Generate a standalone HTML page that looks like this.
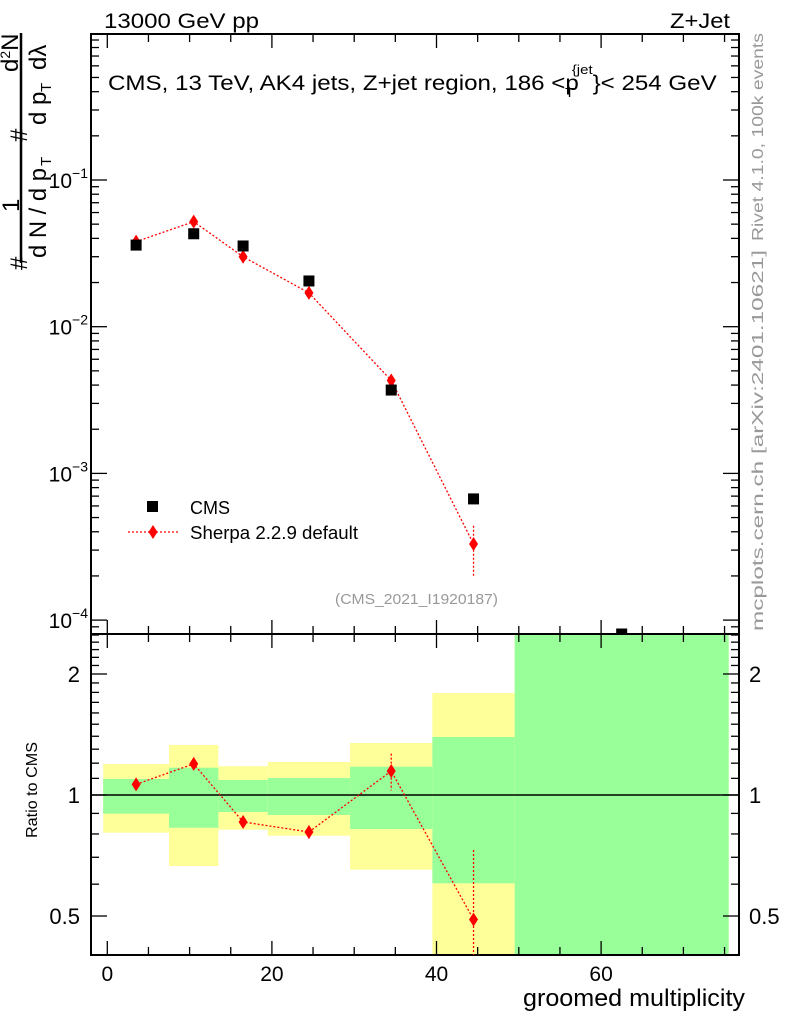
<!DOCTYPE html>
<html><head><meta charset="utf-8"><style>
html,body{margin:0;padding:0;background:#fff;}
svg{display:block;font-family:"Liberation Sans",sans-serif;}
</style></head><body>
<svg id="c" width="786" height="1024" viewBox="0 0 786 1024">
<g id="layer"></g>
</svg>
<script>
const binEdges = [-0.5, 7.5, 13.5, 19.5, 29.5, 39.5, 49.5, 75.5];
const binCenters = [3.5, 10.5, 16.5, 24.5, 34.5, 44.5, 62.5];
const cmsValues = [0.036, 0.043, 0.0355, 0.0205, 0.0037, 0.00067, 0.00008];
const sherpaValues = [0.038, 0.052, 0.030, 0.017, 0.0043, 0.00033];
const sherpaErrUp = [0.0015, 0.0018, 0.0012, 0.0008, 0.0003, 0.00011];
const sherpaErrDn = [0.0015, 0.0018, 0.0012, 0.0008, 0.0003, 0.00013];
const ratioValues = [1.063, 1.195, 0.857, 0.809, 1.147, 0.49];
const ratioErrUp = [0.03, 0.035, 0.03, 0.03, 0.12, 0.24];
const ratioErrDn = [0.03, 0.035, 0.03, 0.03, 0.12, 0.25];
const yellowUp = [1.194, 1.332, 1.179, 1.208, 1.347, 1.794, 3.0];
const yellowDn = [0.806, 0.666, 0.820, 0.792, 0.652, 0.1, 0.1];
const greenUp = [1.096, 1.169, 1.090, 1.102, 1.176, 1.394, 2.5];
const greenDn = [0.899, 0.829, 0.907, 0.892, 0.823, 0.603, 0.1];
const xTicks = [0, 20, 40, 60];
const mainTicks = [-4, -3, -2, -1];
const ratioTickLabels = [0.5, 1, 2];

const L=91, R=739, T=34, M=634, B=955;
const X = v => 107.3 + v*8.23;
const Y = v => 180 - (Math.log10(v)+1)*146.7;
const RY = v => 795 - Math.log10(v)*402;
const NS='http://www.w3.org/2000/svg';
const layer=document.getElementById('layer');
function mk(tag, attrs, parent){const e=document.createElementNS(NS,tag);for(const k in attrs)e.setAttribute(k,attrs[k]);(parent||layer).appendChild(e);return e;}
function clampR(v){return Math.max(M, Math.min(B, v));}

const bands = mk('g',{});


for(let i=0;i<binCenters.length;i++){
  const x0=X(binEdges[i]), x1=X(binEdges[i+1]);
  const ry=mk('rect',{x:x0,y:clampR(RY(yellowUp[i])),width:x1-x0,height:clampR(RY(yellowDn[i]))-clampR(RY(yellowUp[i])),fill:'#ffff99'},bands);
  
  
  const rg=mk('rect',{x:x0,y:clampR(RY(greenUp[i])),width:x1-x0,height:clampR(RY(greenDn[i]))-clampR(RY(greenUp[i])),fill:'#99ff99'},bands);
  
  
}
mk('line',{x1:L,x2:R,y1:RY(1),y2:RY(1),stroke:'#000','stroke-width':1.5});

const f1=mk('rect',{x:L,y:T,width:R-L,height:M-T,fill:'none',stroke:'#000','stroke-width':2});


const f2=mk('rect',{x:L,y:M,width:R-L,height:B-M,fill:'none',stroke:'#000','stroke-width':2});



for(let v=0; v<=75; v+=5){
  const major = v%20===0, x=X(v), len=major?14:8;
  mk('line',{x1:x,x2:x,y1:T,y2:T+len,stroke:'#000','stroke-width':1.3});
  mk('line',{x1:x,x2:x,y1:M,y2:M-len,stroke:'#000','stroke-width':1.3});
  mk('line',{x1:x,x2:x,y1:M,y2:M+len,stroke:'#000','stroke-width':1.3});
  mk('line',{x1:x,x2:x,y1:B,y2:B-len,stroke:'#000','stroke-width':1.3});
}
xTicks.forEach(v=>{const t=mk('text',{x:X(v),y:981,'font-size':21,'text-anchor':'middle'});t.textContent=v;

});

for(let d=-5; d<=0; d++){
  for(let k=1;k<10;k++){
    const v=k*Math.pow(10,d), y=Y(v);
    if(y<T||y>M) continue;
    const len=k===1?16:8;
    mk('line',{x1:L,x2:L+len,y1:y,y2:y,stroke:'#000','stroke-width':1.3});
    mk('line',{x1:R,x2:R-len,y1:y,y2:y,stroke:'#000','stroke-width':1.3});
  }
}
mainTicks.forEach(d=>{
  const t=mk('text',{x:88,y:Y(Math.pow(10,d))+8,'font-size':21,'text-anchor':'end'});
  
  
  t.innerHTML='10<tspan dy="-10" font-size="14">−'+(-d)+'</tspan>';
});

const rt=[0.5,0.6,0.7,0.8,0.9,1,1.1,1.2,1.3,1.4,1.5,1.6,1.7,1.8,1.9,2,2.1,2.2,2.3,2.4,2.5];
rt.forEach(v=>{const y=RY(v); if(y<M||y>B)return; const len=(v===0.5||v===1||v===2)?16:8;
  mk('line',{x1:L,x2:L+len,y1:y,y2:y,stroke:'#000','stroke-width':1.3});
  mk('line',{x1:R,x2:R-len,y1:y,y2:y,stroke:'#000','stroke-width':1.3});});
ratioTickLabels.forEach(v=>{
  const t=mk('text',{x:80,y:RY(v)+8,'font-size':22,'text-anchor':'end'});t.textContent=v;
  
  
  const t2=mk('text',{x:749,y:RY(v)+8,'font-size':22});t2.textContent=v;
  
  
});

let pts=sherpaValues.map((v,i)=>X(binCenters[i])+','+Y(v)).join(' ');
const sl=mk('polyline',{points:pts,fill:'none',stroke:'#f00','stroke-width':1.3,'stroke-dasharray':'2,2'});


sherpaValues.forEach((v,i)=>{
  const x=X(binCenters[i]);
  mk('line',{x1:x,x2:x,y1:Y(v+sherpaErrUp[i]),y2:Y(v-sherpaErrDn[i]),stroke:'#f00','stroke-width':1.3,'stroke-dasharray':'2,2'});
  const y=Y(v);
  const p=mk('polygon',{points:`${x},${y-7} ${x+4.5},${y} ${x},${y+7} ${x-4.5},${y}`,fill:'#f00'});
  
  
});
cmsValues.forEach((v,i)=>{
  const x=X(binCenters[i]), y=Math.min(Y(v), M);
  const r=mk('rect',{x:x-5.5,y:y-5.5,width:11,height:Math.min(11,M-(y-5.5)),fill:'#000'});
  
  
});

pts=ratioValues.map((v,i)=>X(binCenters[i])+','+RY(v)).join(' ');
const rl=mk('polyline',{points:pts,fill:'none',stroke:'#f00','stroke-width':1.3,'stroke-dasharray':'2,2'});


ratioValues.forEach((v,i)=>{
  const x=X(binCenters[i]), y=RY(v);
  mk('line',{x1:x,x2:x,y1:clampR(RY(v+ratioErrUp[i])),y2:clampR(RY(v-ratioErrDn[i])),stroke:'#f00','stroke-width':1.3,'stroke-dasharray':'2,2'});
  const p=mk('polygon',{points:`${x},${y-7} ${x+4.5},${y} ${x},${y+7} ${x-4.5},${y}`,fill:'#f00'});
  
  
});
</script>
<svg style="position:absolute;left:0;top:0" width="786" height="1024">
<text x="104" y="28" font-size="21" textLength="155" lengthAdjust="spacingAndGlyphs">13000 GeV pp</text>
<text x="670" y="28" font-size="21" textLength="60" lengthAdjust="spacingAndGlyphs">Z+Jet</text>
<g transform="translate(108,90) scale(1.15,1)">
<text x="0" y="0" font-size="21">CMS, 13 TeV, AK4 jets, Z+jet region, 186 &lt;p<tspan dy="7" dx="-12" font-size="13">T</tspan><tspan dy="-23" dx="-2" font-size="13">{jet</tspan><tspan dy="16" font-size="21">}&lt; 254 GeV</tspan></text>
</g>
<rect x="147" y="501" width="11" height="11" fill="#000"/>
<text x="190" y="514" font-size="18" textLength="40" lengthAdjust="spacingAndGlyphs">CMS</text>
<line x1="128" x2="178" y1="532" y2="532" stroke="#f00" stroke-width="1.3" stroke-dasharray="2,2"/>
<polygon points="153,525 157.5,532 153,539 148.5,532" fill="#f00"/>
<text x="190" y="539" font-size="18" textLength="168" lengthAdjust="spacingAndGlyphs">Sherpa 2.2.9 default</text>
<text x="335" y="604" font-size="15" fill="#999" textLength="163" lengthAdjust="spacingAndGlyphs">(CMS_2021_I1920187)</text>
<text transform="translate(763,241) rotate(-90)" font-size="16" fill="#999" textLength="208" lengthAdjust="spacingAndGlyphs">Rivet 4.1.0,  100k events</text>
<text transform="translate(763,631) rotate(-90)" font-size="16" fill="#999" textLength="381" lengthAdjust="spacingAndGlyphs">mcplots.cern.ch [arXiv:2401.10621]</text>
<text x="523" y="1006" font-size="24" textLength="222" lengthAdjust="spacingAndGlyphs">groomed multiplicity</text>
<text transform="translate(37,838) rotate(-90)" font-size="16" textLength="96" lengthAdjust="spacingAndGlyphs">Ratio to CMS</text>
<g font-size="24">
<line x1="21" x2="21" y1="33" y2="263" stroke="#000" stroke-width="2.5"/>
<text transform="translate(27,270) rotate(-90)">#</text>
<text transform="translate(19,212) rotate(-90)">1</text>
<text transform="translate(46,258) rotate(-90)" textLength="90" lengthAdjust="spacingAndGlyphs">d N / d p</text>
<text transform="translate(51,166) rotate(-90)" font-size="15">T</text>
<text transform="translate(27,142) rotate(-90)">#</text>
<text transform="translate(46,125) rotate(-90)">d p</text>
<text transform="translate(51,92) rotate(-90)" font-size="15">T</text>
<text transform="translate(46,70) rotate(-90)">dλ</text>
<text transform="translate(18,72) rotate(-90)">d<tspan dy="-8" font-size="14">2</tspan><tspan dy="8">N</tspan></text>
</g>
</svg>
</body></html>
